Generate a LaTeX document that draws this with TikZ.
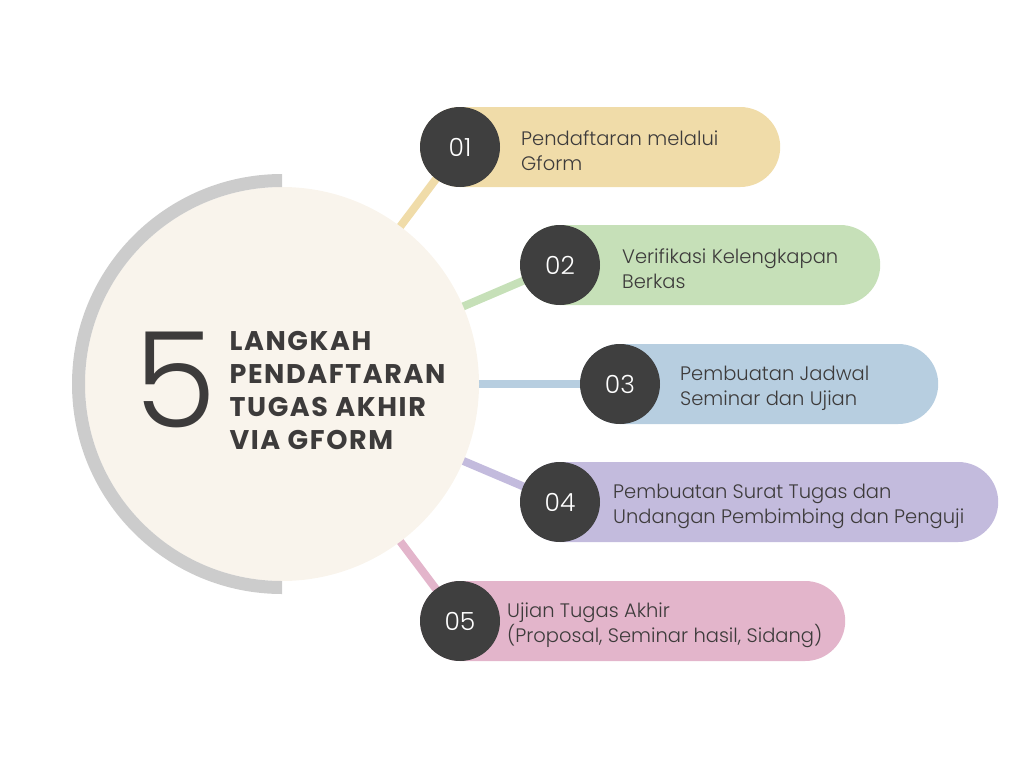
\documentclass[tikz,border=0pt]{standalone}
\usepackage{fontspec}
\setmainfont{Poppins}
\newfontfamily\lightfont{Poppins Light}
\usetikzlibrary{backgrounds}
\definecolor{hubbeige}{HTML}{F9F4EC}
\definecolor{ringgray}{HTML}{CCCCCC}
\definecolor{dotdark}{HTML}{3F3F3F}
\definecolor{textdark}{HTML}{3D3B3B}
\definecolor{stepyellow}{HTML}{F0DCA9}
\definecolor{stepgreen}{HTML}{C6E0B8}
\definecolor{stepblue}{HTML}{B7CEE0}
\definecolor{steppurple}{HTML}{C3BBDD}
\definecolor{steppink}{HTML}{E3B5CB}

\begin{document}
\begin{tikzpicture}[x=1pt, y=-1pt,
    hub/.style = {circle, fill=hubbeige, minimum size=394pt, inner sep=0pt},
    num/.style = {circle, fill=dotdark, minimum size=80pt, inner sep=0pt, text=white, font=\lightfont\fontsize{25}{25}\selectfont},
    pill/.style = {fill=#1, rounded corners=40pt, minimum height=80pt, inner sep=0pt, anchor=west},
    steptext/.style = {anchor=west, align=left, text=textdark, inner sep=0pt, font=\lightfont\fontsize{19.5}{25}\selectfont},
    link/.style = {draw=#1, line width=8pt}]
    \useasboundingbox (0,0) rectangle (1024,768);

    % Hub with the grey half ring
    \node[hub] (hub) at (282,384) {};
    \begin{scope}
        \clip (0,0) rectangle (282,768);
        \draw[ringgray, line width=13pt] (hub.center) circle[radius=203.5pt];
    \end{scope}
    \node[anchor=base, text=textdark, font=\lightfont\fontsize{133}{133}\selectfont] (five) at (176,427) {5};
    \node[anchor=west, align=left, text=textdark, font=\bfseries\fontsize{27}{33}\selectfont\addfontfeature{LetterSpace=6}] (title) at (226,391) {LANGKAH\\PENDAFTARAN\\TUGAS AKHIR\\VIA GFORM};

    % Pills
    \node[pill=stepyellow, minimum width=360pt] (p1) at (420,147) {};
    \node[pill=stepgreen, minimum width=360pt] (p2) at (520,265) {};
    \node[pill=stepblue, minimum width=358pt] (p3) at (580,384) {};
    \node[pill=steppurple, minimum width=478pt] (p4) at (520,502) {};
    \node[pill=steppink, minimum width=425pt] (p5) at (420,621) {};

    % Number dots
    \node[num] (n1) at (460,147) {01};
    \node[num] (n2) at (560,265) {02};
    \node[num] (n3) at (620,384) {03};
    \node[num] (n4) at (560,502) {04};
    \node[num] (n5) at (460,621) {05};

    % Step texts
    \node[steptext] (t1) at (521,151) {Pendaftaran melalui\\Gform};
    \node[steptext] (t2) at (622,269) {Verifikasi Kelengkapan\\Berkas};
    \node[steptext] (t3) at (680,388) {Pembuatan Jadwal\\Seminar dan Ujian};
    \node[steptext] (t4) at (613,506) {Pembuatan Surat Tugas dan\\Undangan Pembimbing dan Penguji};
    \node[steptext] (t5) at (507,625) {Ujian Tugas Akhir\\(Proposal, Seminar hasil, Sidang)};

    % Links
    \begin{pgfonlayer}{background}
        \draw[link=stepyellow] (hub.center) -- (n1.center);
        \draw[link=stepgreen] (hub.center) -- (n2.center);
        \draw[link=stepblue] (hub.center) -- (n3.center);
        \draw[link=steppurple] (hub.center) -- (n4.center);
        \draw[link=steppink] (hub.center) -- (n5.center);
    \end{pgfonlayer}

\end{tikzpicture}
\end{document}
